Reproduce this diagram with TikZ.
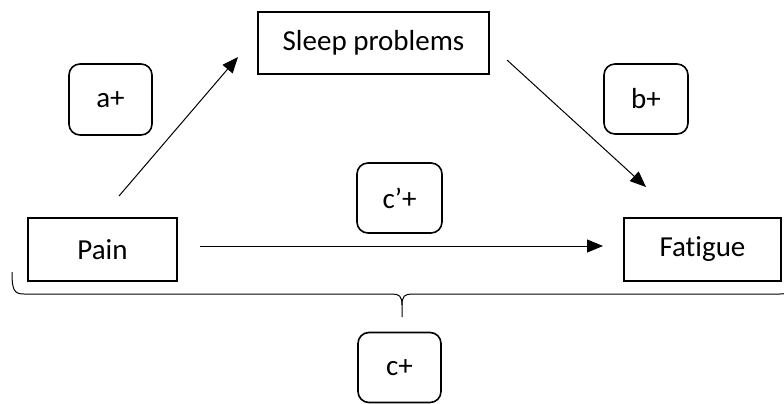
\documentclass[tikz,border=0pt]{standalone}
\usepackage{fontspec}
\setmainfont[Ligatures=NoCommon]{Carlito}
\usetikzlibrary{arrows.meta}
\begin{document}
\begin{tikzpicture}[x=1pt,y=-1pt,
  varbox/.style={draw,line width=1.6pt,inner sep=0pt,font=\fontsize{29}{32}\selectfont},
  pathbox/.style={draw,line width=1.6pt,rounded corners=11pt,inner sep=0pt,font=\fontsize{29}{32}\selectfont},
  conn/.style={line width=1pt,-{Triangle[length=16pt,width=13pt]}},
  bracepath/.style={line width=1pt}]
\useasboundingbox (0,0) rectangle (784,404);
\clip (0,0) rectangle (784,404);
\node[varbox,minimum width=231pt,minimum height=62pt] (sleep) at (373.5,43) {Sleep problems};
\node[varbox,minimum width=149pt,minimum height=63pt] (pain) at (102.5,249.5) {Pain};
\node[varbox,minimum width=157pt,minimum height=63pt] (fatigue) at (702.5,249.5) {Fatigue};
\node[pathbox,minimum width=83pt,minimum height=71pt] (a) at (110.5,99.5) {a+};
\node[pathbox,minimum width=84pt,minimum height=70pt] (b) at (646,99) {b+};
\node[pathbox,minimum width=85pt,minimum height=70pt] (cp) at (399.5,198) {c’+};
\node[pathbox,minimum width=83pt,minimum height=70pt] (c) at (399.5,367.5) {c+};
\coordinate (a1) at (119,196);
\coordinate (a2) at (238,57);
\coordinate (b1) at (507,60);
\coordinate (b2) at (646,187);
\coordinate (c1) at (200,246);
\coordinate (c2) at (603,246);
\draw[conn] (a1) -- (a2);
\draw[conn] (b1) -- (b2);
\draw[conn] (c1) -- (c2);
\coordinate (bl) at (12,272);
\coordinate (bm) at (402,317);
\coordinate (br) at (792,272);
\draw[bracepath] (bl) .. controls (12,290) and (14,294) .. (24,294) -- (392,294)
  .. controls (399,294) and (402,296) .. (402,305) -- (bm);
\draw[bracepath] (402,305) .. controls (402,296) and (405,294) .. (412,294) -- (780,294)
  .. controls (790,294) and (792,290) .. (br);
\end{tikzpicture}
\end{document}
